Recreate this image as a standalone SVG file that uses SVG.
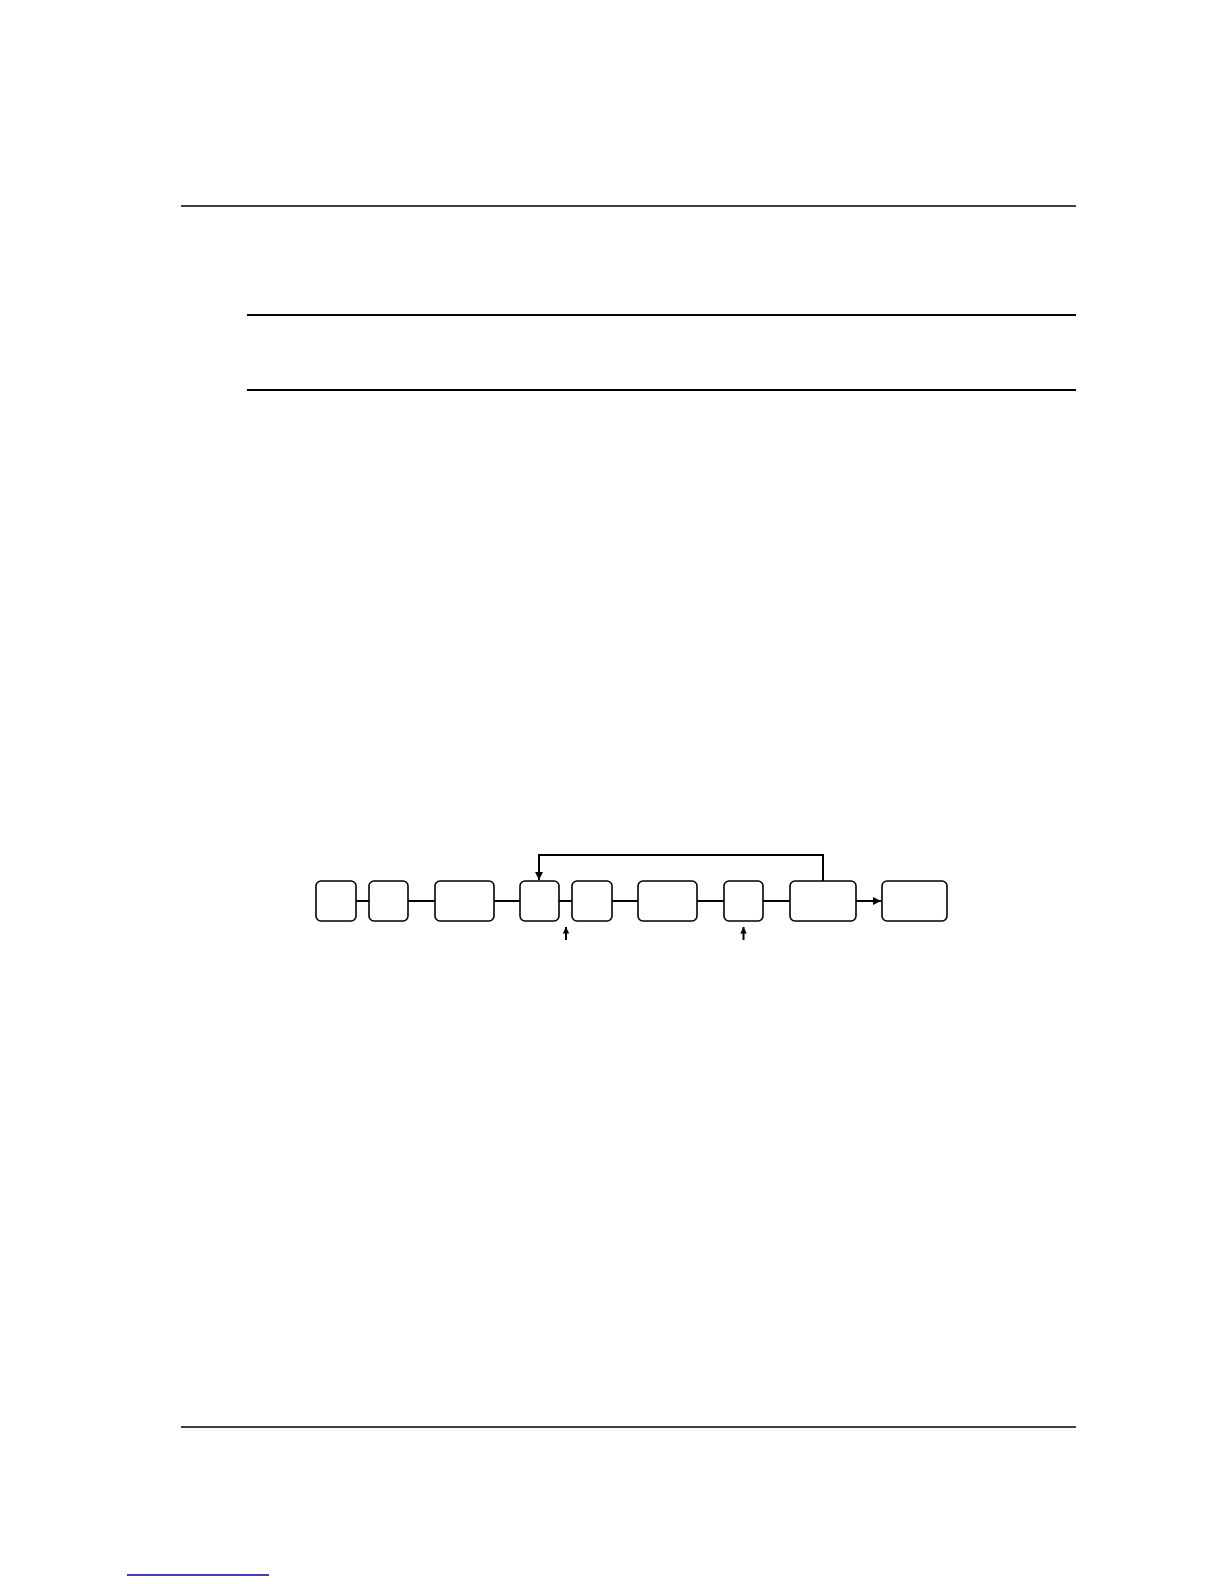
<svg xmlns="http://www.w3.org/2000/svg" width="1224" height="1584" viewBox="0 0 1224 1584">
<style>
.rule{stroke:#000;fill:none}
.box{fill:#fff;stroke:#000;stroke-width:1.6}
.conn{stroke:#000;stroke-width:2;fill:none}
</style>
<defs>
<marker id="ah" viewBox="0 0 10 10" refX="10" refY="5" markerWidth="8" markerHeight="8" markerUnits="userSpaceOnUse" orient="auto">
<path d="M0,0 L10,5 L0,10 z" fill="#000"/>
</marker>
<marker id="ahs" viewBox="0 0 10 10" refX="10" refY="5" markerWidth="6.5" markerHeight="6.5" markerUnits="userSpaceOnUse" orient="auto">
<path d="M0,0 L10,5 L0,10 z" fill="#000"/>
</marker>
</defs>
<rect width="1224" height="1584" fill="#fff"/>
<g id="page-rules">
<line class="rule" x1="181" y1="206" x2="1076" y2="206" stroke-width="1.3"/>
<line class="rule" x1="247" y1="315" x2="1076" y2="315" stroke-width="2"/>
<line class="rule" x1="247" y1="390" x2="1076" y2="390" stroke-width="2"/>
<line class="rule" x1="181" y1="1427" x2="1076" y2="1427" stroke-width="1.3"/>
<line x1="127" y1="1575" x2="269" y2="1575" stroke="#00009c" stroke-width="1.4"/>
</g>
<g id="connectors">
<line class="conn" x1="356" y1="901" x2="369" y2="901"/>
<line class="conn" x1="408" y1="901" x2="435" y2="901"/>
<line class="conn" x1="494" y1="901" x2="520" y2="901"/>
<line class="conn" x1="559" y1="901" x2="572" y2="901"/>
<line class="conn" x1="612" y1="901" x2="638" y2="901"/>
<line class="conn" x1="697" y1="901" x2="724" y2="901"/>
<line class="conn" x1="763" y1="901" x2="790" y2="901"/>
<line class="conn" x1="856" y1="901" x2="881" y2="901" marker-end="url(#ah)"/>
<polyline class="conn" points="823,881 823,855 539,855 539,880" marker-end="url(#ah)"/>
<line class="conn" x1="566" y1="940" x2="566" y2="927" marker-end="url(#ahs)"/>
<line class="conn" x1="743.5" y1="940" x2="743.5" y2="927" marker-end="url(#ahs)"/>
</g>
<g id="node1"><rect class="box" x="316" y="881" width="40" height="40" rx="5"/></g>
<g id="node2"><rect class="box" x="369" y="881" width="39" height="40" rx="5"/></g>
<g id="node3"><rect class="box" x="435" y="881" width="59" height="40" rx="5"/></g>
<g id="node4"><rect class="box" x="520" y="881" width="39" height="40" rx="5"/></g>
<g id="node5"><rect class="box" x="572" y="881" width="40" height="40" rx="5"/></g>
<g id="node6"><rect class="box" x="638" y="881" width="59" height="40" rx="5"/></g>
<g id="node7"><rect class="box" x="724" y="881" width="39" height="40" rx="5"/></g>
<g id="node8"><rect class="box" x="790" y="881" width="66" height="40" rx="5"/></g>
<g id="node9"><rect class="box" x="882" y="881" width="65" height="40" rx="5"/></g>
</svg>
